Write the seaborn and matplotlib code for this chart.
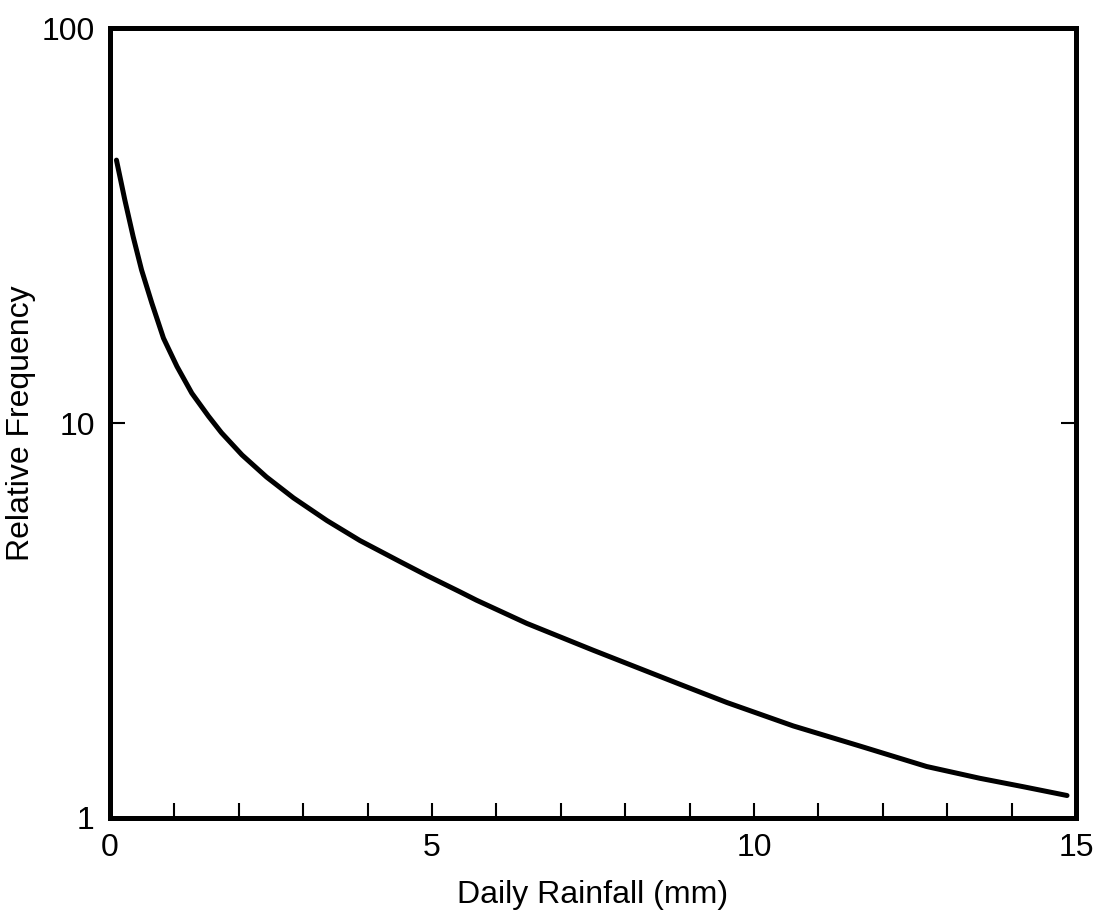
import matplotlib
matplotlib.use("Agg")
import matplotlib.pyplot as plt
import matplotlib.ticker as mticker
import pandas as pd
import seaborn as sns

# values
rainfall_mm = [0.10, 0.23, 0.36, 0.49, 0.65, 0.83, 1.04, 1.27, 1.53, 1.73,
               2.05, 2.43, 2.85, 3.37, 3.88, 4.50, 4.92, 5.43, 5.69, 6.47,
               7.50, 8.85, 9.58, 10.61, 11.65, 12.68, 13.51, 14.18, 14.86]
rel_freq = [46.3, 36.7, 29.6, 24.4, 20.1, 16.4, 13.9, 11.9, 10.4, 9.45,
            8.3, 7.30, 6.46, 5.66, 5.04, 4.46, 4.11, 3.74, 3.56, 3.11,
            2.66, 2.18, 1.96, 1.71, 1.52, 1.35, 1.26, 1.20, 1.14]

x_major = [0, 5, 10, 15]
x_minor = list(range(1, 15))
y_major = [1, 10, 100]
y_labels = ["1", "10", "100"]

df = pd.DataFrame({"Daily Rainfall (mm)": rainfall_mm, "Relative Frequency": rel_freq})

sns.set_style("ticks", {"axes.edgecolor": "black", "text.color": "black",
                        "xtick.color": "black", "ytick.color": "black",
                        "axes.labelcolor": "black"})
plt.rcParams["font.family"] = ["Liberation Sans", "DejaVu Sans"]

fig = plt.figure(figsize=(10.98, 9.16), dpi=100)
ax = fig.add_axes([0.1002, 0.107, 0.8798, 0.8624])

sns.lineplot(data=df, x="Daily Rainfall (mm)", y="Relative Frequency",
             color="black", linewidth=3.6, ax=ax)

ax.set_yscale("log")
ax.set_xlim(0, 15)
ax.set_ylim(1, 100)

ax.xaxis.set_major_locator(mticker.FixedLocator(x_major))
ax.xaxis.set_minor_locator(mticker.FixedLocator(x_minor))
ax.yaxis.set_major_locator(mticker.FixedLocator(y_major))
ax.yaxis.set_major_formatter(mticker.FixedFormatter(y_labels))
ax.yaxis.set_minor_locator(mticker.NullLocator())

ax.tick_params(axis="x", which="both", direction="in", length=11, width=1.5,
               labelsize=23, pad=11, top=False, bottom=True, colors="black")
ax.tick_params(axis="y", which="major", direction="in", length=11, width=1.5,
               labelsize=23, pad=11, left=True, right=True, colors="black")

for s in ax.spines.values():
    s.set_linewidth(3.6)
    s.set_color("black")
    s.set_visible(True)

ax.set_xlabel("Daily Rainfall (mm)", fontsize=23, labelpad=12)
ax.set_ylabel("Relative Frequency", fontsize=23, labelpad=4)

fig.savefig("out.png", dpi=100)
